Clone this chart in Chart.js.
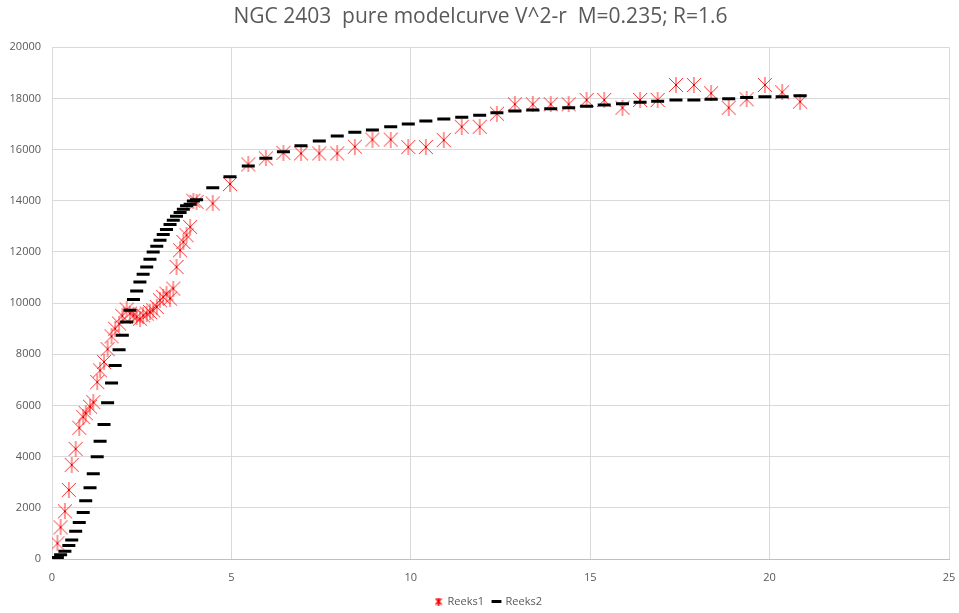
<!DOCTYPE html>
<html>
<head>
<meta charset="utf-8">
<script src="https://cdn.jsdelivr.net/npm/chart.js@4"></script>
<style>
html,body{margin:0;padding:0;background:#fff;}
#wrap{width:959px;height:613px;}
</style>
</head>
<body>
<div id="wrap"><canvas id="c" width="959" height="613"></canvas></div>
<script>
const titleText = "NGC 2403  pure modelcurve V^2-r  M=0.235; R=1.6";
const seriesNames = ["Reeks1", "Reeks2"];
const radius = [0.15,0.24,0.36,0.47,0.55,0.66,0.76,0.87,0.94,1.06,1.15,1.26,1.34,1.45,1.55,1.66,1.76,1.87,1.96,2.08,
  2.17,2.27,2.36,2.45,2.54,2.64,2.73,2.82,2.92,3.01,3.10,3.19,3.29,3.38,3.47,3.57,3.66,3.75,3.85,3.94,4.03,
  4.48,4.96,5.47,5.96,6.45,6.94,7.45,7.95,8.44,8.93,9.44,9.93,10.42,10.92,11.42,11.92,12.40,12.90,13.40,13.90,
  14.40,14.90,15.39,15.90,16.39,16.88,17.39,17.89,18.37,18.86,19.36,19.87,20.35,20.85];
const observed = [611,1237,1863,2700,3679,4305,5127,5542,5700,5950,6129,6912,7370,7700,8200,8700,9000,9200,9500,9750,
  9590,9520,9456,9390,9520,9590,9650,9718,9847,10110,10240,10371,10176,10567,11413,12067,12390,12650,12978,14000,13957,
  13894,14650,15420,15656,15875,15850,15850,15850,16110,16390,16390,16100,16100,16370,16890,16890,17400,17769,17769,17769,
  17769,17937,17937,17636,17937,17937,18525,18525,18200,17636,17965,18525,18238,17871];
const model = [63,170,300,530,740,1080,1430,1820,2280,2780,3330,4000,4600,5256,6105,6873,7565,8180,8740,9260,
  9718,10137,10474,10826,11127,11413,11714,12000,12223,12458,12680,12877,13072,13240,13397,13542,13671,13800,13867,13985,14040,
  14505,14935,15354,15656,15915,16150,16333,16530,16673,16760,16890,16998,17115,17194,17260,17340,17440,17507,17546,17597,
  17636,17691,17742,17793,17847,17886,17937,17937,17965,17990,18030,18065,18065,18100];
const xTicks = [0,5,10,15,20,25];
const yTicks = [0,2000,4000,6000,8000,10000,12000,14000,16000,18000,20000];

function makeAsterisk(size, width, color) {
  const c = document.createElement('canvas');
  c.width = size; c.height = size;
  const g = c.getContext('2d');
  const m = size / 2, e = size - 1;
  g.strokeStyle = color;
  g.lineWidth = width;
  g.beginPath();
  g.moveTo(1, 1); g.lineTo(e, e);
  g.moveTo(e, 1); g.lineTo(1, e);
  g.moveTo(m, 0); g.lineTo(m, size);
  g.stroke();
  g.fillStyle = '#d00000';
  g.fillRect(m - 1, m - 1, 2, 2);
  return c;
}
const bigStar = makeAsterisk(16, 1, 'rgba(255,20,20,0.9)');
const smallStar = makeAsterisk(8, 1.6, '#ff0000');

const pts1 = radius.map((x, i) => ({x: x, y: observed[i]}));
const pts2 = radius.map((x, i) => ({x: x, y: model[i]}));

const textColor = '#595959';
const gridColor = '#d9d9d9';

const blockShift = {
  id: 'blockShift',
  afterLayout(chart) {
    const l = chart.legend;
    if (l) { l.left += 14; l.right += 14; l.top += 4; l.bottom += 4; }
    const t = chart.titleBlock;
    if (t) { t.left += 6; t.right += 6; }
  }
};

new Chart(document.getElementById('c'), {
  type: 'scatter',
  data: {
    datasets: [
      {label: seriesNames[0], data: pts1, pointStyle: bigStar, pointRadius: 8, borderColor: 'red', backgroundColor: 'red', order: 1},
      {label: seriesNames[1], data: pts2, pointStyle: 'line', pointRadius: 6.5, borderWidth: 3, borderColor: '#000', backgroundColor: '#000', order: 0}
    ]
  },
  plugins: [blockShift],
  options: {
    responsive: false,
    animation: false,
    events: [],
    layout: {padding: {left: 0, right: 10, top: 0, bottom: 0}},
    plugins: {
      title: {
        display: true, text: titleText, color: textColor,
        font: {family: 'Open Sans', size: 21, weight: 'normal'},
        padding: {top: 4, bottom: 18}
      },
      legend: {
        position: 'bottom',
        labels: {
          color: textColor,
          font: {family: 'Open Sans', size: 11},
          usePointStyle: true, boxWidth: 7, boxHeight: 7, padding: 9,
          sort: (a, b) => a.datasetIndex - b.datasetIndex,
          generateLabels: (chart) => {
            const items = Chart.defaults.plugins.legend.labels.generateLabels(chart);
            items.forEach(it => {
              if (it.datasetIndex === 0) { it.pointStyle = smallStar; }
              else { it.lineWidth = 3; it.strokeStyle = '#000'; }
            });
            return items;
          }
        }
      },
      tooltip: {enabled: false}
    },
    scales: {
      x: {
        type: 'linear', min: 0, max: 25,
        afterBuildTicks: (s) => { s.ticks = xTicks.map(v => ({value: v})); },
        afterFit: (s) => { s.height = 24; s.paddingRight = 0; s.paddingLeft = 0; },
        grid: {color: gridColor, drawTicks: false},
        border: {color: '#bfbfbf'},
        ticks: {color: textColor, font: {family: 'Open Sans', size: 11}, padding: 12, callback: (v) => String(v)}
      },
      y: {
        type: 'linear', min: 0, max: 20000,
        afterBuildTicks: (s) => { s.ticks = yTicks.map(v => ({value: v})); },
        afterFit: (s) => { s.width = 52; },
        grid: {color: gridColor, drawTicks: false},
        border: {color: gridColor},
        ticks: {color: textColor, font: {family: 'Open Sans', size: 11}, padding: 11, callback: (v) => String(v)}
      }
    }
  }
});
</script>
</body>
</html>
